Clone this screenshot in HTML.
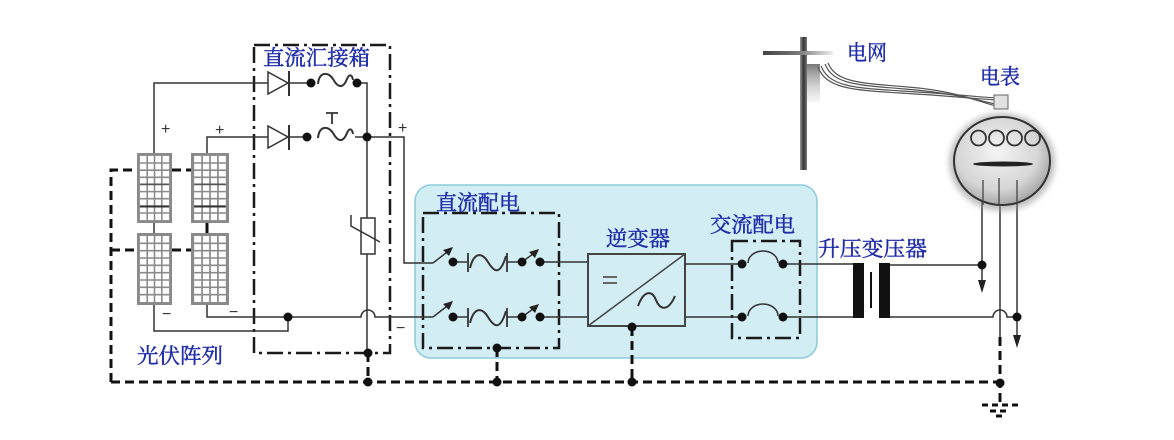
<!DOCTYPE html>
<html><head><meta charset="utf-8"><style>
html,body{margin:0;padding:0;background:#fff;}
svg{display:block;}
text.lb{font-family:"Liberation Serif","Noto Serif CJK SC",serif;fill:#1f2daa;stroke:#1f2daa;stroke-width:0.45px;font-size:21px;}
text.sm{font-family:"Liberation Sans",sans-serif;fill:#333;font-size:16px;}
</style></head><body>
<svg width="1174" height="440" viewBox="0 0 1174 440" xmlns="http://www.w3.org/2000/svg">
<defs>
<symbol id="panelA" viewBox="0 0 36 72" preserveAspectRatio="none">
<rect x="0" y="0" width="36" height="72" fill="#8a8a8a"/>
<rect x="3" y="3" width="30" height="66" fill="#fff"/>
<g stroke="#8a8a8a" stroke-width="1.6">
<line x1="10.5" y1="3" x2="10.5" y2="69"/><line x1="18" y1="3" x2="18" y2="69"/><line x1="25.5" y1="3" x2="25.5" y2="69"/>
<line x1="3" y1="10.3" x2="33" y2="10.3"/><line x1="3" y1="17.7" x2="33" y2="17.7"/><line x1="3" y1="25" x2="33" y2="25"/>
<line x1="3" y1="39.7" x2="33" y2="39.7"/><line x1="3" y1="47" x2="33" y2="47"/><line x1="3" y1="61.7" x2="33" y2="61.7"/>
</g>
<line x1="3" y1="32.3" x2="33" y2="32.3" stroke="#555" stroke-width="1.8"/>
<line x1="3" y1="55" x2="33" y2="55" stroke="#333" stroke-width="2.2"/>
</symbol>
<symbol id="panelB" viewBox="0 0 36 72" preserveAspectRatio="none">
<rect x="0" y="0" width="36" height="72" fill="#8a8a8a"/>
<rect x="3" y="3" width="30" height="66" fill="#fff"/>
<g stroke="#8a8a8a" stroke-width="1.6">
<line x1="10.5" y1="3" x2="10.5" y2="69"/><line x1="18" y1="3" x2="18" y2="69"/><line x1="25.5" y1="3" x2="25.5" y2="69"/>
<line x1="3" y1="10.3" x2="33" y2="10.3"/><line x1="3" y1="17.7" x2="33" y2="17.7"/><line x1="3" y1="25" x2="33" y2="25"/>
<line x1="3" y1="32.3" x2="33" y2="32.3"/><line x1="3" y1="39.7" x2="33" y2="39.7"/><line x1="3" y1="47" x2="33" y2="47"/>
<line x1="3" y1="54.3" x2="33" y2="54.3"/><line x1="3" y1="61.7" x2="33" y2="61.7"/>
</g>
</symbol>
<linearGradient id="pole" x1="0" x2="1" y1="0" y2="0">
<stop offset="0" stop-color="#9a9a9a"/><stop offset="0.5" stop-color="#333"/><stop offset="1" stop-color="#777"/>
</linearGradient>
<linearGradient id="arm" x1="0" x2="1" y1="0" y2="0">
<stop offset="0" stop-color="#444"/><stop offset="0.5" stop-color="#777"/><stop offset="1" stop-color="#eee"/>
</linearGradient>
<linearGradient id="blob" x1="0" x2="0" y1="0" y2="1">
<stop offset="0" stop-color="#777"/><stop offset="1" stop-color="#ddd" stop-opacity="0.3"/>
</linearGradient>
<radialGradient id="meter" cx="0.45" cy="0.4" r="0.6">
<stop offset="0" stop-color="#f4f4f4"/><stop offset="0.7" stop-color="#d6d6d6"/><stop offset="1" stop-color="#a8a8a8"/>
</radialGradient>
<filter id="blur" x="-30%" y="-30%" width="160%" height="160%"><feGaussianBlur stdDeviation="3"/></filter>
</defs>

<!-- blue region -->
<rect x="415" y="185" width="402" height="173" rx="16" fill="#d3edf4" stroke="#8ccbd9" stroke-width="1.5"/>

<!-- solar panels -->
<use href="#panelA" x="137" y="153" width="35" height="70"/>
<use href="#panelA" x="191" y="153" width="38" height="70"/>
<use href="#panelB" x="137" y="233" width="35" height="72"/>
<use href="#panelB" x="191" y="233" width="38" height="72"/>
<line x1="154" y1="223" x2="154" y2="233" stroke="#333" stroke-width="1.5"/>
<line x1="207" y1="223" x2="207" y2="233" stroke="#111" stroke-width="3"/>

<!-- dashed frame lines -->
<g stroke="#111" stroke-width="3" stroke-dasharray="9 5" fill="none">
<polyline points="111,382 111,170 137,170"/>
<line x1="172" y1="170" x2="191" y2="170"/>
<line x1="111" y1="250" x2="137" y2="250"/>
<line x1="172" y1="250" x2="191" y2="250"/>
<line x1="111" y1="382" x2="1000" y2="382"/>
<line x1="368" y1="353" x2="368" y2="382"/>
<line x1="497" y1="348" x2="497" y2="382"/>
<line x1="632" y1="327" x2="632" y2="382"/>
<line x1="1000" y1="337" x2="1000" y2="405"/>
</g>
<g stroke="#111" stroke-width="3" stroke-dasharray="6 4">
<line x1="982" y1="405" x2="1020" y2="405"/>
<line x1="990" y1="411" x2="1010" y2="411"/>
<line x1="996" y1="416" x2="1004" y2="416"/>
</g>

<!-- dash-dot boxes -->
<g stroke="#1a1a1a" stroke-width="2.5" fill="none" stroke-dasharray="16 5 3 5">
<rect x="254" y="45" width="136" height="308"/>
<rect x="423" y="213" width="136" height="135"/>
<rect x="732" y="241" width="68" height="97"/>
</g>

<!-- wires -->
<g stroke="#333" stroke-width="1.5" fill="none">
<polyline points="154,153 154,83 268,83"/>
<polyline points="207,153 207,137 268,137"/>
<line x1="289" y1="83" x2="311" y2="83"/>
<line x1="289" y1="137" x2="307" y2="137"/>
<polyline points="357,83 367,83 367,218"/>
<line x1="355" y1="137" x2="367" y2="137"/>
<polyline points="367,137 404,137 404,263 433,263"/>
<path d="M367,254 V353"/>
<polyline points="154,305 154,331 288,331 288,317"/>
<path d="M207,305 V317 H361 A7,7 0 0 1 375,317 H433"/>
<path d="M318,84 C319,72 328,71 333,79 C338,88 343,89 347,79 C349,74 352,74 353,80" stroke-width="2"/>
<path d="M318,138 C319,126 328,125 333,133 C338,142 343,143 347,133 C349,128 352,128 353,134" stroke-width="2"/>
<path d="M332,124 V113 M326,113 H338" stroke-width="1.8"/>
<rect x="361" y="218" width="14" height="36" fill="#fff"/>
<polyline points="351,215 351,226 380,242"/>
<line x1="433" y1="263" x2="451" y2="249"/>
<line x1="433" y1="317" x2="451" y2="303"/>
<line x1="453" y1="262" x2="468" y2="262"/>
<line x1="453" y1="317" x2="468" y2="317"/>
<path d="M468,253 V272 M507,253 V272 M468,308 V327 M507,308 V327" stroke-width="1.8"/>
<path d="M470,268 C474,252 482,252 488,262 S500,276 506,256" stroke-width="2"/>
<path d="M470,323 C474,307 482,307 488,317 S500,331 506,311" stroke-width="2"/>
<line x1="507" y1="262" x2="522" y2="262"/>
<line x1="507" y1="317" x2="522" y2="317"/>
<line x1="522" y1="262" x2="537" y2="251"/>
<line x1="522" y1="317" x2="537" y2="306"/>
<line x1="540" y1="262" x2="588" y2="262"/>
<line x1="540" y1="317" x2="588" y2="317"/>
<rect x="588" y="254" width="97" height="72" stroke="#444" stroke-width="2"/>
<line x1="588" y1="326" x2="685" y2="254" stroke="#444"/>
<path d="M603,277 H617 M603,283 H617" stroke="#666" stroke-width="2"/>
<path d="M638,306 C644,290 652,290 656,300 S668,312 675,296" stroke="#333" stroke-width="2"/>
<line x1="685" y1="264" x2="742" y2="264"/>
<line x1="685" y1="317" x2="742" y2="317"/>
<path d="M748,263 A15,12 0 0 1 778,263"/>
<path d="M748,316 A15,12 0 0 1 778,316"/>
<line x1="783" y1="264" x2="853" y2="264"/>
<line x1="783" y1="317" x2="853" y2="317"/>
<line x1="890" y1="265" x2="982" y2="265"/>
<path d="M890,317 H993 A7,7 0 0 1 1007,317 H1017"/>
<line x1="982" y1="180" x2="982" y2="282"/>
<line x1="1000" y1="180" x2="1000" y2="337"/>
<line x1="1017" y1="180" x2="1017" y2="337"/>
</g>

<!-- diodes -->
<polygon points="268,72 268,94 288,83" fill="#fff" stroke="#333" stroke-width="1.5"/>
<polygon points="268,126 268,148 288,137" fill="#fff" stroke="#333" stroke-width="1.5"/>
<line x1="289" y1="71" x2="289" y2="96" stroke="#333" stroke-width="2"/>
<line x1="289" y1="125" x2="289" y2="150" stroke="#333" stroke-width="2"/>

<!-- arrowheads -->
<g fill="#222">
<polygon points="453,247 443,250 449,256"/>
<polygon points="453,301 443,304 449,310"/>
<polygon points="539,249 529,252 535,258"/>
<polygon points="539,304 529,307 535,313"/>
<polygon points="978,280 986,280 982,293"/>
<polygon points="1013,335 1021,335 1017,348"/>
</g>

<!-- transformer -->
<rect x="853" y="263" width="11" height="55" fill="#111"/>
<rect x="879" y="263" width="11" height="55" fill="#111"/>
<line x1="871" y1="272" x2="871" y2="308" stroke="#111" stroke-width="2"/>

<!-- dots -->
<g fill="#111">
<circle cx="311" cy="83" r="4.5"/><circle cx="357" cy="83" r="4.5"/>
<circle cx="307" cy="137" r="4.5"/><circle cx="367" cy="137" r="4.5"/>
<circle cx="288" cy="317" r="4.5"/>
<circle cx="368" cy="353" r="4.5"/><circle cx="368" cy="382" r="4.5"/>
<circle cx="453" cy="262" r="4.5"/><circle cx="522" cy="262" r="4.5"/><circle cx="540" cy="262" r="4.5"/>
<circle cx="453" cy="317" r="4.5"/><circle cx="522" cy="317" r="4.5"/><circle cx="540" cy="317" r="4.5"/>
<circle cx="497" cy="348" r="4.5"/><circle cx="497" cy="382" r="4.5"/>
<circle cx="632" cy="327" r="4.5"/><circle cx="632" cy="382" r="4.5"/>
<circle cx="742" cy="264" r="4.5"/><circle cx="783" cy="264" r="4.5"/>
<circle cx="742" cy="317" r="4.5"/><circle cx="783" cy="317" r="4.5"/>
<circle cx="982" cy="265" r="4.5"/><circle cx="1017" cy="317" r="4.5"/>
<circle cx="1000" cy="383" r="4.5"/>
</g>

<!-- pole & grid -->
<rect x="807" y="64" width="13" height="38" fill="url(#blob)"/>
<rect x="800" y="37" width="7" height="133" fill="url(#pole)"/>
<rect x="763" y="51" width="70" height="4" fill="url(#arm)"/>
<g fill="none" stroke="#555" stroke-width="1.2">
<path d="M818,67 C826,88 850,90 900,93 S980,99 996,100"/>
<path d="M821,66 C829,86 852,88 902,91 S980,97 996,98"/>
<path d="M825,64 C833,84 855,85 905,89 S980,101 996,104"/>
<path d="M828,63 C836,82 858,83 908,87 S982,103 996,106"/>
</g>
<!-- meter -->
<ellipse cx="1002" cy="162" rx="53" ry="49" fill="#999" opacity="0.6" filter="url(#blur)"/>
<ellipse cx="1002" cy="161" rx="48" ry="44" fill="url(#meter)" stroke="#333" stroke-width="2"/>
<rect x="994" y="95" width="14" height="14" fill="#e2e2e2" stroke="#666" stroke-width="1"/>
<g fill="none" stroke="#333" stroke-width="1.8">
<circle cx="978.5" cy="138" r="7.5"/><circle cx="996.5" cy="138" r="7.5"/>
<circle cx="1014.5" cy="138" r="7.5"/><circle cx="1032.5" cy="138" r="7.5"/>
</g>
<ellipse cx="1003" cy="164" rx="30" ry="2.5" fill="#222"/>
<g stroke="#444" stroke-width="1.3">
<line x1="983" y1="180" x2="983" y2="205"/><line x1="999" y1="178" x2="999" y2="205"/><line x1="1017" y1="180" x2="1017" y2="205"/>
</g>

<!-- labels -->
<text class="lb" x="263" y="65" textLength="107" lengthAdjust="spacingAndGlyphs">直流汇接箱</text>
<text class="lb" x="137" y="363" textLength="86" lengthAdjust="spacingAndGlyphs">光伏阵列</text>
<text class="lb" x="436" y="210" textLength="84" lengthAdjust="spacingAndGlyphs">直流配电</text>
<text class="lb" x="606" y="246" textLength="64" lengthAdjust="spacingAndGlyphs">逆变器</text>
<text class="lb" x="710" y="232" textLength="85" lengthAdjust="spacingAndGlyphs">交流配电</text>
<text class="lb" x="818" y="256" textLength="109" lengthAdjust="spacingAndGlyphs">升压变压器</text>
<text class="lb" x="847" y="60" textLength="40" lengthAdjust="spacingAndGlyphs">电网</text>
<text class="lb" x="980" y="84" textLength="40" lengthAdjust="spacingAndGlyphs">电表</text>

<text class="sm" x="161" y="134">+</text>
<text class="sm" x="215" y="135">+</text>
<text class="sm" x="398" y="133">+</text>
<text class="sm" x="162" y="319">−</text>
<text class="sm" x="229" y="317">−</text>
<text class="sm" x="396" y="333">−</text>
</svg>
</body></html>
